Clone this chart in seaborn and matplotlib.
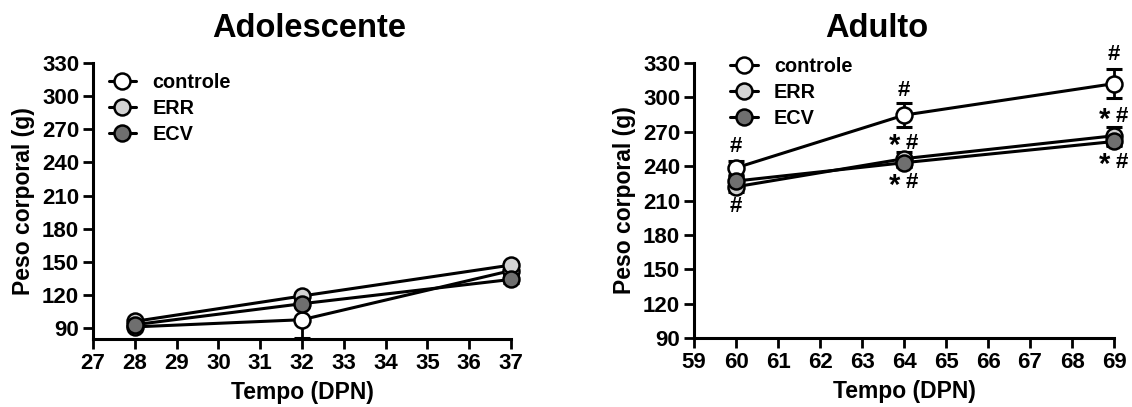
import matplotlib
matplotlib.use("Agg")
import matplotlib.pyplot as plt
import numpy as np
import pandas as pd
import seaborn as sns

groups = ['controle', 'ERR', 'ECV']
group_colors = {'controle': 'white', 'ERR': '#d3d3d3', 'ECV': '#6f6f6f'}

# adolescente
adol_days = [28, 32, 37]
adol_controle = [91, 97.5, 142]
adol_err = [96, 119, 147]
adol_ecv = [93, 112, 134]
adol_controle_sem = [2, 17, 3]
adol_err_sem = [2, 3, 3]
adol_ecv_sem = [2, 3, 3]

# adulto
adult_days = [60, 64, 69]
adult_controle = [238.5, 284.5, 312]
adult_err = [222, 246.5, 266.5]
adult_ecv = [227, 243, 261.5]
adult_controle_sem = [6, 10.5, 12.5]
adult_err_sem = [5, 6, 8]
adult_ecv_sem = [4, 4, 4]

# marcas de significancia (dia, peso, texto)
adult_marks = [
    (60, 257, '#'), (60, 205, '#'),
    (64, 306, '#'), (64, 260, '*#'), (64, 225.5, '*#'),
    (69, 337, '#'), (69, 283, '*#'), (69, 243.5, '*#'),
]


def make_df(days, vals, sems):
    rows = []
    for g, v, s in zip(groups, vals, sems):
        for d, y, e in zip(days, v, s):
            rows.append({'dia': d, 'peso': y, 'sem': e, 'grupo': g})
    return pd.DataFrame(rows)


adol_df = make_df(adol_days, [adol_controle, adol_err, adol_ecv],
                  [adol_controle_sem, adol_err_sem, adol_ecv_sem])
adult_df = make_df(adult_days, [adult_controle, adult_err, adult_ecv],
                   [adult_controle_sem, adult_err_sem, adult_ecv_sem])

sns.set_style("ticks")
plt.rcParams['font.family'] = ['Liberation Sans', 'DejaVu Sans']
plt.rcParams['font.weight'] = 'bold'
for k in ['text.color', 'axes.labelcolor', 'xtick.color', 'ytick.color',
          'axes.edgecolor']:
    plt.rcParams[k] = 'black'

fig = plt.figure(figsize=(11.32, 4.07), dpi=100)
ax1 = fig.add_axes([0.0822, 0.167, 0.3692, 0.678])
ax2 = fig.add_axes([0.6131, 0.1695, 0.371, 0.6757])


def draw_panel(ax, df, xlim, ylim, xticks, title, title_x, leg_anchor):
    for i, g in enumerate(groups):
        sub = df[df['grupo'] == g]
        ax.errorbar(sub['dia'], sub['peso'], yerr=sub['sem'], fmt='none',
                    ecolor='black', elinewidth=2, capsize=6, capthick=2.2,
                    zorder=2 + i * 0.1, clip_on=False)
        sns.lineplot(data=sub, x='dia', y='peso', ax=ax, color='black',
                     linewidth=2.2, marker='o', markersize=11.5,
                     markerfacecolor=group_colors[g], mec='black', mew=1.8,
                     label=g, errorbar=None, zorder=3 + i * 0.1, clip_on=False)
    ax.set_xlim(*xlim)
    ax.set_ylim(*ylim)
    ax.set_xticks(xticks)
    ax.set_yticks(np.arange(90, 331, 30))
    sns.despine(ax=ax)
    for sp in ['left', 'bottom']:
        ax.spines[sp].set_linewidth(2.2)
    ax.tick_params(direction='out', length=7, width=2, labelsize=16, pad=3)
    for lab in ax.get_xticklabels() + ax.get_yticklabels():
        lab.set_fontweight('bold')
    ax.set_xlabel('Tempo (DPN)', fontsize=16.5, fontweight='bold', labelpad=5)
    ax.set_ylabel('Peso corporal (g)', fontsize=16.5, fontweight='bold', labelpad=5)
    ax.text(title_x, 1.095, title, transform=ax.transAxes, ha='center',
            va='baseline', fontsize=23.5, fontweight='bold')
    ax.legend(loc='upper left', bbox_to_anchor=leg_anchor, frameon=False,
              fontsize=14.3, handlelength=1.4, handletextpad=0.8,
              labelspacing=0.35, borderaxespad=0)


draw_panel(ax1, adol_df, (27, 37), (80, 330), range(27, 38),
           'Adolescente', 0.517, (0.018, 0.992))
draw_panel(ax2, adult_df, (59, 69), (90, 330), range(59, 70),
           'Adulto', 0.436, (0.067, 1.052))

for x, y, s in adult_marks:
    if s == '#':
        ax2.annotate('#', (x, y), ha='center', va='center', fontsize=16,
                     fontweight='bold', annotation_clip=False)
    else:
        ax2.annotate('*', (x, y), xytext=(-6.5, -2), textcoords='offset points',
                     ha='center', va='center', fontsize=21,
                     fontweight='bold', annotation_clip=False)
        ax2.annotate('#', (x, y), xytext=(5.5, 0), textcoords='offset points',
                     ha='center', va='center', fontsize=16,
                     fontweight='bold', annotation_clip=False)

fig.savefig('out.png', dpi=100)
